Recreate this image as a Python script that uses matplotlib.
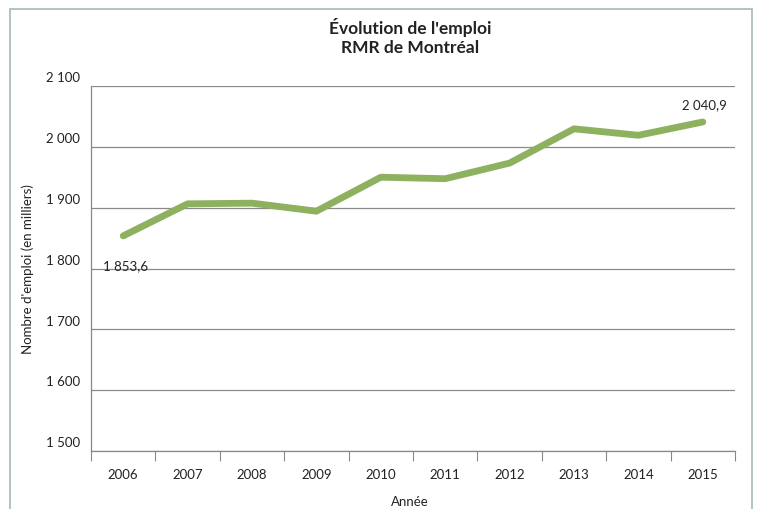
import matplotlib
matplotlib.use("Agg")
import matplotlib.pyplot as plt
import matplotlib.transforms as mtransforms
from matplotlib.patches import Rectangle

years = ["2006", "2007", "2008", "2009", "2010", "2011", "2012", "2013", "2014", "2015"]
emplois = [1853.6, 1906.3, 1907.4, 1894.2, 1950.1, 1947.6, 1973.3, 2029.6, 2019.0, 2040.9]
y_ticks = [1500, 1600, 1700, 1800, 1900, 2000, 2100]


def fr_num(v, dec=0):
    s = f"{v:,.{dec}f}".replace(",", " ").replace(".", ",")
    return s


plt.rcParams['font.family'] = ['Lato', 'DejaVu Sans']

fig = plt.figure(figsize=(7.59, 5.10), dpi=100)
ax = fig.add_axes([0.1199, 0.1137, 0.8485, 0.7157])

# cadre autour du graphique
fig.patches.append(Rectangle((0.0132, -0.05), 0.9776, 1.03, transform=fig.transFigure,
                             fill=False, edgecolor='#a3bcab', linewidth=1.2))

x = list(range(len(years)))
ax.plot(x, emplois, color='#8db15e', linewidth=4.9, solid_capstyle='round',
        solid_joinstyle='round', zorder=3)

ax.set_xlim(-0.5, len(years) - 0.5)
ax.set_ylim(1500, 2100)
ax.set_yticks(y_ticks)
ax.set_yticklabels([fr_num(v) for v in y_ticks], fontsize=9.5, color='#222222')
ax.set_xticks(x)
ax.set_xticklabels(years, fontsize=9.5, color='#222222')
ax.set_xticks([i - 0.5 for i in range(len(years) + 1)], minor=True)
ax.tick_params(axis='x', which='major', length=0, pad=12)
ax.tick_params(axis='x', which='minor', length=7.5, color='#888888', width=0.8)
ax.tick_params(axis='y', length=0, pad=8)

# libellés de l'axe Y un peu au-dessus des lignes
offset = mtransforms.ScaledTranslation(0, 7 / 72, fig.dpi_scale_trans)
for lab in ax.get_yticklabels():
    lab.set_transform(lab.get_transform() + offset)

ax.grid(axis='y', color='#8a8a8a', linewidth=0.9)
ax.set_axisbelow(True)
for side in ['top', 'right']:
    ax.spines[side].set_visible(False)
for side in ['left', 'bottom']:
    ax.spines[side].set_color('#888888')
    ax.spines[side].set_linewidth(0.9)

ax.annotate(fr_num(emplois[0], 1), (x[0], emplois[0]), xytext=(2, -21),
            textcoords='offset points', ha='center', va='center', fontsize=9.5,
            color='#222222')
ax.annotate(fr_num(emplois[-1], 1), (x[-1], emplois[-1]), xytext=(1, 13),
            textcoords='offset points', ha='center', va='center', fontsize=9.5,
            color='#222222')

ax.set_xlabel("Année", fontsize=9.5, color='#222222', va='center')
ax.xaxis.set_label_coords(0.495, -0.138)
ax.set_ylabel("Nombre d'emploi (en milliers)", fontsize=9.5, color='#222222', va='center')
ax.yaxis.set_label_coords(-0.099, 0.5)

fig.text(0.54, 0.927, "Évolution de l'emploi\nRMR de Montréal", ha='center', va='center',
         fontsize=12.5, fontweight='bold', color='#222222', linespacing=1.25)

fig.savefig("out.png", dpi=100)
